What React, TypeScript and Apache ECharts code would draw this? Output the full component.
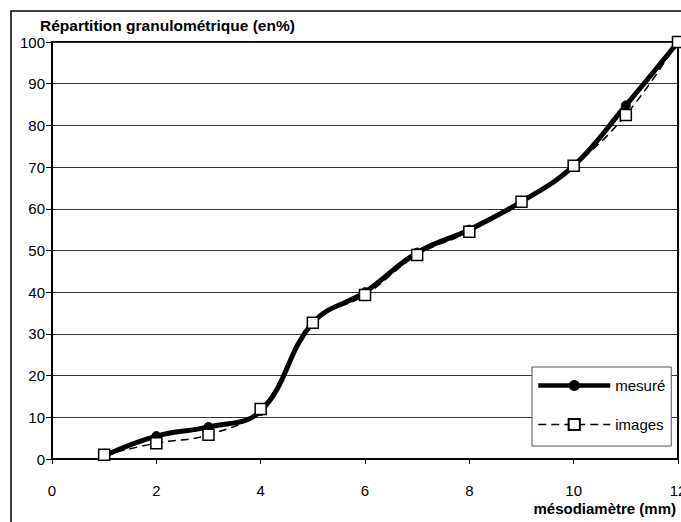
import React, { useEffect, useRef } from "react";
import * as echarts from "echarts";

const xValues = [1, 2, 3, 4, 5, 6, 7, 8, 9, 10, 11, 12];
const mesure = [0.8, 5.5, 7.7, 11.5, 32.7, 40, 49.5, 55, 61.7, 70.3, 84.8, 100];
const images = [1.0, 3.8, 5.8, 12.0, 32.7, 39.3, 48.9, 54.5, 61.7, 70.3, 82.5, 100];
const seriesNames = ["mesuré", "images"];
const yTitle = "Répartition granulométrique (en%)";
const xTitle = "mésodiamètre (mm)";

const FONT = "Liberation Sans";

export default function App() {
  const ref = useRef<HTMLDivElement>(null);
  useEffect(() => {
    if (!ref.current) return;
    const chart = echarts.init(ref.current, null, { renderer: "svg" });
    const pair = (ys: number[]) => xValues.map((x, i) => [x, ys[i]]);
    chart.setOption({
      animation: false,
      backgroundColor: "#fff",
      textStyle: { fontFamily: FONT },
      grid: {
        left: 52,
        top: 42,
        right: 3,
        bottom: 63,
        containLabel: false,
        outerBoundsMode: "none",
        show: true,
        borderColor: "#000",
        borderWidth: 2,
        backgroundColor: "transparent",
      },
      xAxis: {
        type: "value",
        min: 0,
        max: 12,
        interval: 2,
        axisLine: { show: true, onZero: false, lineStyle: { color: "#000", width: 2 } },
        axisTick: { show: true, length: 5, lineStyle: { color: "#000", width: 1 } },
        axisLabel: { color: "#000", fontSize: 15, margin: 24, fontFamily: FONT },
        splitLine: { show: false },
      },
      yAxis: {
        type: "value",
        min: 0,
        max: 100,
        interval: 10,
        axisLine: { show: true, lineStyle: { color: "#000", width: 2 } },
        axisTick: { show: true, length: 6, lineStyle: { color: "#000", width: 1 } },
        axisLabel: { color: "#000", fontSize: 15, margin: 7, fontFamily: FONT },
        splitLine: { show: true, lineStyle: { color: "#333", width: 1 } },
      },
      legend: {
        orient: "vertical",
        left: 532,
        top: 367,
        padding: [11, 6, 14, 4],
        itemWidth: 72,
        itemHeight: 14,
        itemGap: 24,
        backgroundColor: "#fff",
        borderColor: "#555",
        borderWidth: 1,
        textStyle: { color: "#000", fontSize: 15, fontFamily: FONT },
        data: [
          { name: seriesNames[0], lineStyle: { width: 4.5, color: "#000" } },
          { name: seriesNames[1], lineStyle: { width: 1.5, color: "#000", type: [8, 5] } },
        ],
      },
      series: [
        {
          name: seriesNames[0],
          type: "line",
          data: pair(mesure),
          smooth: 0.4,
          symbol: "circle",
          symbolSize: 9,
          lineStyle: { color: "#000", width: 5 },
          itemStyle: { color: "#000", borderColor: "#000" },
          z: 2,
        },
        {
          name: seriesNames[1],
          type: "line",
          data: pair(images),
          smooth: 0.4,
          symbol: "rect",
          symbolSize: 11,
          lineStyle: { color: "#000", width: 1.5, type: [8, 5] },
          itemStyle: { color: "#fff", borderColor: "#000", borderWidth: 1.5 },
          z: 3,
        },
      ],
      graphic: [
        {
          type: "rect",
          shape: { x: 11, y: 11, width: 720, height: 560 },
          style: { fill: "none", stroke: "#000", lineWidth: 1.5 },
          silent: true,
          z: 100,
        },
        {
          type: "text",
          x: 40,
          y: 25,
          style: {
            text: yTitle,
            fontFamily: FONT,
            fontSize: 15.5,
            fontWeight: "bold",
            fill: "#000",
            textAlign: "left",
            textVerticalAlign: "middle",
          },
          z: 100,
        },
        {
          type: "text",
          x: 676,
          y: 508,
          style: {
            text: xTitle,
            fontFamily: FONT,
            fontSize: 15,
            fontWeight: "bold",
            fill: "#000",
            textAlign: "right",
            textVerticalAlign: "middle",
          },
          z: 100,
        },
      ],
    });
    return () => chart.dispose();
  }, []);
  return (
    <div
      ref={ref}
      style={{ position: "fixed", left: 0, top: 0, width: 681, height: 522 }}
    />
  );
}
